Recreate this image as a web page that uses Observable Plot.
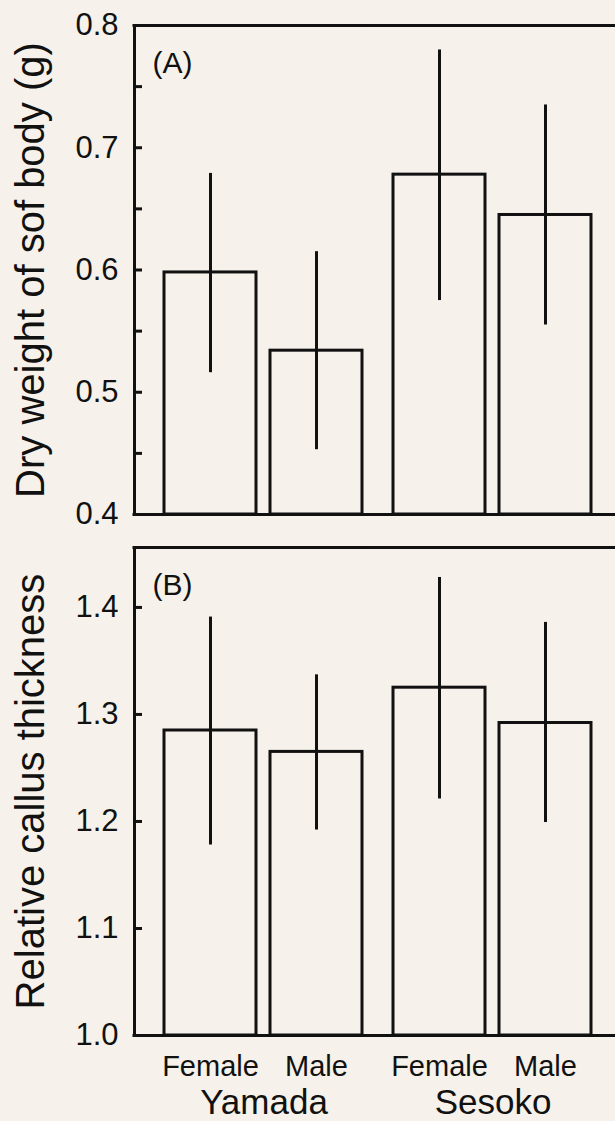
<!DOCTYPE html>
<html>
<head>
<meta charset="utf-8">
<script src="https://cdn.jsdelivr.net/npm/d3@7"></script>
<script src="https://cdn.jsdelivr.net/npm/@observablehq/plot@0.6"></script>
<style>
  html, body { margin: 0; padding: 0; background: #f6f1ea; overflow: hidden; width: 615px; height: 1121px; }
  #chart svg { display: block; }
</style>
</head>
<body>
<div id="chart"></div>
<script>
// ---- data ----
const sites = ["Yamada", "Sesoko"];
const sexes = ["Female", "Male"];
// order: Yamada Female, Yamada Male, Sesoko Female, Sesoko Male
const weightMean = [0.598, 0.534, 0.678, 0.645];
const weightLow  = [0.516, 0.453, 0.575, 0.555];
const weightHigh = [0.679, 0.615, 0.780, 0.735];
const callusMean = [1.285, 1.265, 1.325, 1.292];
const callusLow  = [1.178, 1.192, 1.221, 1.199];
const callusHigh = [1.391, 1.337, 1.428, 1.386];
const weightDomain = [0.4, 0.8];
const weightTicks = [0.4, 0.5, 0.6, 0.7, 0.8];
const weightMinorTicks = [0.45, 0.55, 0.65, 0.75];
const callusDomain = [1.0, 1.456];
const callusTicks = [1.0, 1.1, 1.2, 1.3, 1.4];
const weightTitle = "Dry weight of sof body (g)";
const callusTitle = "Relative callus thickness";

function rowsOf(mean, low, high) {
  return mean.map((m, i) => ({
    site: sites[Math.floor(i / 2)],
    sex: sexes[i % 2],
    mean: m, low: low[i], high: high[i]
  }));
}

const INK = "#111";
const BG = "#f6f1ea";
const FONT = "'Liberation Sans', Arial, Helvetica, sans-serif";
const W = 622, ML = 134, MR = 0, FXPAD = 0.131;
// fx band geometry (used to reach the whole-plot edges from inside a facet)
const fxStep = (W - ML - MR) / (sites.length - FXPAD + 2 * FXPAD);
const facetOffset = fxStep * FXPAD;           // gap between plot edge and first facet
const facetBand = fxStep * (1 - FXPAD);       // width of one facet
const toEdge = facetBand / 2 + facetOffset;   // from facet centre to the plot edge

function panel({rows, domain, ticks, allTicks, title, tag, height, marginTop, marginBottom, showX}) {
  const first = [sites[0]];
  const marks = [
    Plot.barY(rows, {fx: "site", x: "sex", y1: domain[0], y2: "mean", fill: BG, stroke: INK, strokeWidth: 3}),
    Plot.ruleX(rows, {fx: "site", x: "sex", y1: "low", y2: "high", stroke: INK, strokeWidth: 3}),
    // frame: top & bottom lines stretched across the facet gaps, plus the left edge
    Plot.ruleY(domain, {insetLeft: -facetOffset - 1.5, insetRight: -facetOffset - 10, stroke: INK, strokeWidth: 3}),
    Plot.ruleX(first, {fx: d => d, x: null, y1: domain[0], y2: domain[1], dx: -toEdge, stroke: INK, strokeWidth: 3}),
    Plot.axisY(allTicks, {anchor: "left", dx: -facetOffset, tickSize: -8, strokeWidth: 3, stroke: INK, tickFormat: () => "", label: null}),
    Plot.axisY(ticks, {anchor: "left", dx: -facetOffset, tickSize: 0, tickPadding: 16, tickFormat: ".1f", fontSize: 31, fill: INK, label: null}),
    Plot.text(first, {fx: d => d, text: () => tag, frameAnchor: "top-left", dx: 18 - facetOffset, dy: 26, lineAnchor: "top", textAnchor: "start", fontSize: 30, fill: INK}),
    Plot.text(first, {fx: d => d, text: () => title, frameAnchor: "left", rotate: -90, dx: -91 - facetOffset, lineAnchor: "bottom", textAnchor: "middle", fontSize: 40, fill: INK})
  ];
  if (showX) {
    marks.push(
      Plot.text(rows, {fx: "site", x: "sex", text: "sex", frameAnchor: "bottom", dy: 20, lineAnchor: "top", fontSize: 29, fill: INK}),
      Plot.text(sites, {fx: d => d, text: d => d, frameAnchor: "bottom", dy: 54, lineAnchor: "top", fontSize: 35, fill: INK})
    );
  }
  return Plot.plot({
    width: W,
    height,
    marginLeft: ML,
    marginRight: MR,
    marginTop,
    marginBottom,
    style: {fontFamily: FONT, background: "transparent", maxWidth: "none", overflow: "visible", color: INK},
    fx: {domain: sites, paddingInner: FXPAD, paddingOuter: FXPAD, axis: null, label: null},
    x: {domain: sexes, paddingInner: 0.132, paddingOuter: 0, axis: null, label: null},
    y: {domain, axis: null},
    marks
  });
}

const chart = document.getElementById("chart");
chart.append(panel({
  rows: rowsOf(weightMean, weightLow, weightHigh),
  domain: weightDomain, ticks: weightTicks, allTicks: weightTicks.concat(weightMinorTicks),
  title: weightTitle, tag: "(A)", height: 530, marginTop: 25, marginBottom: 16, showX: false
}));
chart.append(panel({
  rows: rowsOf(callusMean, callusLow, callusHigh),
  domain: callusDomain, ticks: callusTicks, allTicks: callusTicks,
  title: callusTitle, tag: "(B)", height: 591, marginTop: 17, marginBottom: 86, showX: true
}));
</script>
</body>
</html>
